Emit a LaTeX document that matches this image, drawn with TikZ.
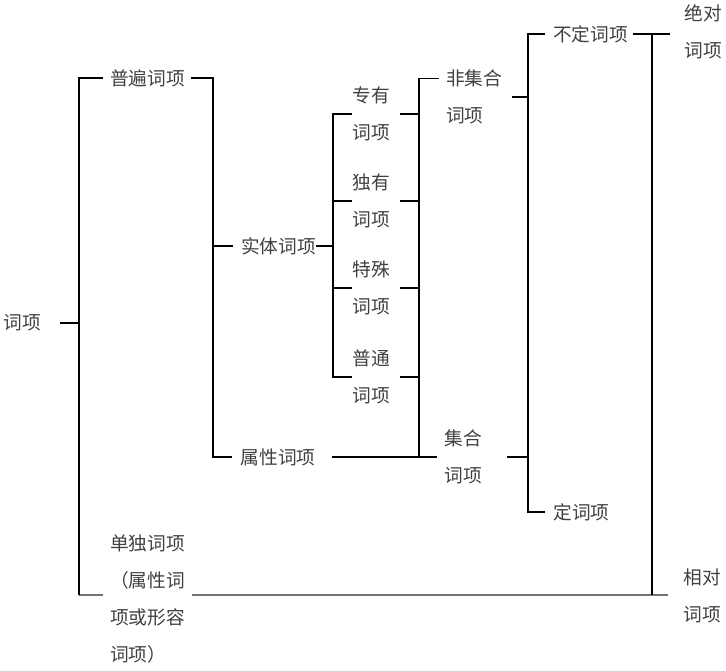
\documentclass[tikz,border=0pt]{standalone}
\usepackage{fontspec}
\newfontfamily\cjk{Noto Sans CJK SC}
\usetikzlibrary{positioning}

\begin{document}
\begin{tikzpicture}[x=1pt,y=-1pt,
    term/.style={font=\cjk\fontsize{18.7}{37}\selectfont,text=black!75,inner sep=0pt,align=center},
    bar/.style={line width=1.2pt},
    graybar/.style={line width=1.2pt,draw=black!55}]
    \useasboundingbox (0,0) rectangle (726,670);

    % terms
    \node[term]             (root) at (22.5,323)  {词项};
    \node[term]             (pb)   at (147.5,78)  {普遍词项};
    \node[term]             (st)   at (278.5,246) {实体词项};
    \node[term]             (sx)   at (278,457)   {属性词项};
    \node[term]             (zy)   at (371,114)   {专有\\词项};
    \node[term]             (dy)   at (371,201)   {独有\\词项};
    \node[term]             (ts)   at (371,288)   {特殊\\词项};
    \node[term]             (pt)   at (371,377)   {普通\\词项};
    \node[term,anchor=west,align=left] (fjh) at (446,97) {非集合\\词项};
    \node[term]             (jh)   at (463.5,457) {集合\\词项};
    \node[term]             (bd)   at (590.5,34)  {不定词项};
    \node[term]             (d)    at (581.5,512) {定词项};
    \node[term]             (jd)   at (703,32)    {绝对\\词项};
    \node[term]             (xd)   at (702,596)   {相对\\词项};
    \node[term,anchor=west,align=left] (dd) at (110,599) {单独词项\\（属性词\\项或形容\\词项）};

    % bracket spines
    \coordinate (s1)  at (79,323);
    \coordinate (s1b) at (79,595);
    \coordinate (s2)  at (213,246);
    \coordinate (s3)  at (333,246);
    \coordinate (s4)  at (419,457);
    \coordinate (s5)  at (528,97);
    \coordinate (s6)  at (652,595);
    \coordinate (fjhtop) at ([yshift=18.5pt]fjh.west);

    % bottom line
    \draw[graybar,shorten >=7pt] (s1b) -- (s1b -| dd.west);
    \draw[graybar,shorten <=7pt,shorten >=15pt] (s1b -| dd.east) -- (s1b -| xd.west);

    % root
    \draw[bar,shorten <=19pt] (root.east) -- (s1);
    \draw[bar,shorten >=7pt] (s1b) |- (pb.west);

    % general terms
    \draw[bar,shorten <=6pt,shorten >=8pt] (pb.east) -| (s2) |- (sx.west);
    \draw[bar,shorten >=8pt] (s2) -- (st.west);

    % concrete terms
    \draw[bar] (st.east) -- (s3);
    \draw[bar] (zy.west) -| (s3) |- (pt.west);
    \draw[bar] (dy.west) -- (dy.west -| s3);
    \draw[bar] (ts.west) -- (ts.west -| s3);
    \draw[bar,shorten <=10pt] (zy.east) -- (zy.east -| s4);
    \draw[bar,shorten <=10pt] (dy.east) -- (dy.east -| s4);
    \draw[bar,shorten <=10pt] (ts.east) -- (ts.east -| s4);
    \draw[bar,shorten <=10pt] (pt.east) -- (pt.east -| s4);

    % collective or not
    \draw[bar,shorten <=7pt,shorten >=8pt] (fjhtop) -| (s4) -- (jh.west);
    \draw[bar,shorten <=16pt] (sx.east) -- (s4);

    % definite or not
    \draw[bar,shorten <=9pt] (fjh.east) -- (s5);
    \draw[bar,shorten <=25pt] (jh.east) -- (jh.east -| s5);
    \draw[bar,shorten <=8pt,shorten >=8pt] (bd.west) -| (s5) |- (d.west);

    % absolute or relative
    \draw[bar,shorten <=5pt,shorten >=14pt] (bd.east) -- (bd.east -| jd.west);
    \draw[bar] (s6 |- bd.east) -- (s6);
\end{tikzpicture}
\end{document}
